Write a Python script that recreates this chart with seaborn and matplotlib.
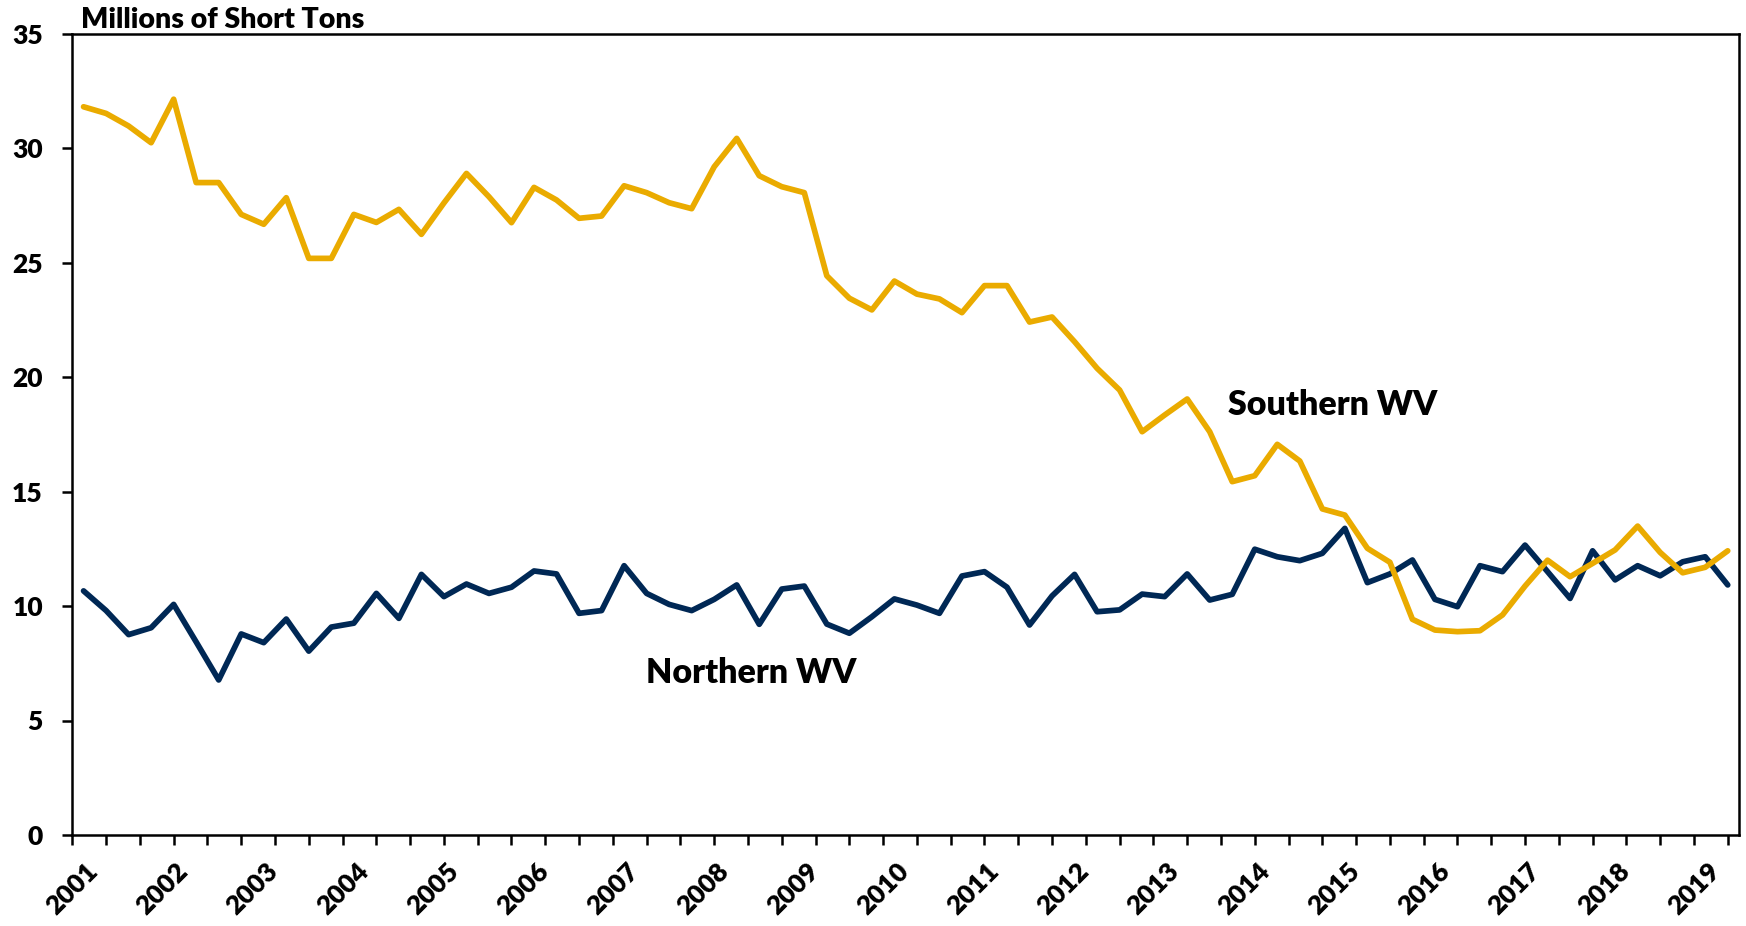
import numpy as np
import pandas as pd
import matplotlib
matplotlib.use("Agg")
import matplotlib.pyplot as plt
from matplotlib.transforms import ScaledTranslation
import seaborn as sns

# quarterly coal production, millions of short tons, 2001Q1 .. 2019Q2
YEARS = list(range(2001, 2020))
QUARTERS = [f"{y}Q{q}" for y in YEARS for q in range(1, 5)][:74]

SOUTHERN_WV = [
    31.80, 31.51, 30.96, 30.23, 32.13, 28.49, 28.49, 27.10, 26.67, 27.83,
    25.18, 25.18, 27.10, 26.75, 27.32, 26.23, 27.60, 28.89, 27.87, 26.74,
    28.28, 27.73, 26.93, 27.03, 28.35, 28.05, 27.61, 27.35, 29.18, 30.42,
    28.79, 28.31, 28.05, 24.42, 23.44, 22.93, 24.19, 23.62, 23.41, 22.81,
    23.99, 23.99, 22.40, 22.62, 21.54, 20.38, 19.43, 17.61, 18.34, 19.04,
    17.61, 15.43, 15.69, 17.06, 16.33, 14.24, 13.97, 12.52, 11.91, 9.42,
    8.95, 8.88, 8.92, 9.61, 10.87, 12.00, 11.28, 11.86, 12.45, 13.49,
    12.34, 11.45, 11.69, 12.41,
]

NORTHERN_WV = [
    10.66, 9.80, 8.75, 9.05, 10.07, 8.43, 6.77, 8.78, 8.40, 9.43,
    8.03, 9.08, 9.25, 10.55, 9.46, 11.38, 10.41, 10.96, 10.55, 10.82,
    11.53, 11.40, 9.68, 9.80, 11.76, 10.55, 10.07, 9.80, 10.29, 10.92,
    9.20, 10.74, 10.87, 9.21, 8.81, 9.53, 10.31, 10.04, 9.68, 11.31,
    11.50, 10.82, 9.17, 10.44, 11.38, 9.75, 9.83, 10.52, 10.41, 11.40,
    10.26, 10.51, 12.48, 12.15, 11.98, 12.30, 13.39, 11.02, 11.40, 12.01,
    10.29, 9.97, 11.76, 11.50, 12.66, 11.50, 10.33, 12.41, 11.14, 11.76,
    11.32, 11.93, 12.15, 10.92,
]

NAVY = "#002855"
GOLD = "#EAAB00"
WEIGHT = "heavy"


def main():
    sns.set_style("white")
    plt.rcParams["font.family"] = ["Lato", "DejaVu Sans"]
    plt.rcParams["font.weight"] = "bold"
    plt.rcParams["text.color"] = "black"
    plt.rcParams["xtick.color"] = "black"
    plt.rcParams["ytick.color"] = "black"

    n = len(QUARTERS)
    df = pd.DataFrame({
        "idx": list(range(n)) * 2,
        "tons": NORTHERN_WV + SOUTHERN_WV,
        "region": ["Northern WV"] * n + ["Southern WV"] * n,
    })

    fig = plt.figure(figsize=(17.46, 9.26), dpi=100)
    ax = fig.add_axes([72.3 / 1746, 1 - 835 / 926, (1739 - 72.3) / 1746, (835 - 33.5) / 926])

    sns.lineplot(
        data=df, x="idx", y="tons", hue="region",
        hue_order=["Northern WV", "Southern WV"],
        palette={"Northern WV": NAVY, "Southern WV": GOLD},
        linewidth=4.1, legend=False, ax=ax,
    )
    for line in ax.lines:
        line.set_solid_joinstyle("round")
        line.set_solid_capstyle("round")

    ax.set_xlim(-0.5, n - 0.5)
    ax.set_ylim(0, 35)
    ax.set_xlabel("")
    ax.set_ylabel("")

    # year labels on major ticks, tick marks on minor ticks (every 1.5 quarters)
    ax.xaxis.remove_overlapping_locs = False
    label_pos = [QUARTERS.index(f"{y}Q1") for y in YEARS]
    ax.set_xticks(label_pos)
    ax.set_xticklabels([str(y) for y in YEARS], rotation=45,
                       ha="right", va="top", rotation_mode="anchor",
                       fontsize=19, fontweight=WEIGHT, color="black")
    ax.set_xticks(np.arange(-0.5, n - 0.4, 1.5), minor=True)
    ax.tick_params(axis="x", which="major", bottom=True, length=0, pad=17)
    ax.tick_params(axis="x", which="minor", bottom=True, length=7.2, width=1.8,
                   direction="out", color="black")
    for lab in ax.get_xticklabels():
        lab.set_transform(lab.get_transform() + ScaledTranslation(1.5 / 72, 0, fig.dpi_scale_trans))

    ax.set_yticks(range(0, 36, 5))
    ax.set_yticklabels([str(v) for v in range(0, 36, 5)], fontsize=19,
                       fontweight=WEIGHT, color="black")
    ax.tick_params(axis="y", which="major", left=True, length=7.2, width=1.8,
                   direction="out", pad=14, color="black")

    for sp in ax.spines.values():
        sp.set_visible(True)
        sp.set_color("black")
        sp.set_linewidth(1.8)

    fig.text(81 / 1746, 1 - 28 / 926, "Millions of Short Tons", fontsize=20.5,
             fontweight=WEIGHT, ha="left", va="baseline", color="black")
    ax.text(50.8, 18.34, "Southern WV", fontsize=24.5, fontweight=WEIGHT,
            ha="left", va="baseline", color="black")
    ax.text(24.97, 6.64, "Northern WV", fontsize=24.5, fontweight=WEIGHT,
            ha="left", va="baseline", color="black")

    fig.savefig("out.png", dpi=100)
    plt.close(fig)


if __name__ == "__main__":
    main()
